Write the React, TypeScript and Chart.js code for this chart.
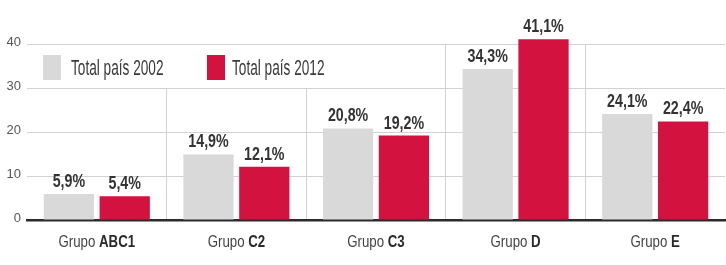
import React, { useEffect, useRef } from "react";
import { Chart, registerables } from "chart.js";

Chart.register(...registerables);

const groupPrefix = "Grupo ";
const groupNames = ["ABC1", "C2", "C3", "D", "E"];
const seriesLabels = ["Total país 2002", "Total país 2012"];
const values2002 = [5.9, 14.9, 20.8, 34.3, 24.1];
const values2012 = [5.4, 12.1, 19.2, 41.1, 22.4];
const yTickValues = [0, 10, 20, 30, 40];

const GRAY = "#d9d9d9";
const RED = "#d3123f";
const TEXT = "#3a3a3a";
const FAMILY = "'Liberation Sans', Arial, sans-serif";

function drawScaled(
  ctx: CanvasRenderingContext2D,
  text: string,
  x: number,
  y: number,
  font: string,
  scaleX: number,
  align: "left" | "center"
) {
  ctx.save();
  ctx.font = font;
  const w = ctx.measureText(text).width * scaleX;
  const left = align === "center" ? x - w / 2 : x;
  ctx.translate(left, y);
  ctx.scale(scaleX, 1);
  ctx.textAlign = "left";
  ctx.textBaseline = "alphabetic";
  ctx.fillText(text, 0, 0);
  ctx.restore();
}

const fmt = (v: number) => v.toFixed(1).replace(".", ",") + "%";

const legendPlugin = {
  id: "insideLegend",
  beforeDatasetsDraw(chart: any) {
    const { ctx, chartArea } = chart;
    const l = chartArea.left;
    const t = chartArea.top;
    ctx.save();
    ctx.fillStyle = "#ffffff";
    ctx.fillRect(l + 1, t + 1, 318, 43);
    const colors = [GRAY, RED];
    const swX = [l + 16, l + 180];
    const txX = [l + 44, l + 205];
    for (let i = 0; i < 2; i++) {
      ctx.fillStyle = colors[i];
      ctx.fillRect(swX[i], t + 11, 18, 25);
      ctx.fillStyle = TEXT;
      drawScaled(ctx, seriesLabels[i], txX[i], t + 31, `22px ${FAMILY}`, 0.62, "left");
    }
    ctx.restore();
  },
};

const labelsPlugin = {
  id: "valueLabels",
  afterDatasetsDraw(chart: any) {
    const { ctx, chartArea } = chart;
    ctx.save();
    ctx.fillStyle = "#333333";
    chart.data.datasets.forEach((ds: any, di: number) => {
      const meta = chart.getDatasetMeta(di);
      meta.data.forEach((bar: any, i: number) => {
        drawScaled(ctx, fmt(ds.data[i]), bar.x, bar.y - 7, `bold 19px ${FAMILY}`, 0.75, "center");
      });
    });
    // x category labels: "Grupo " regular + name bold
    const xScale = chart.scales.x;
    const sx = 0.78;
    groupNames.forEach((name, i) => {
      const cx = xScale.getPixelForValue(i);
      const regFont = `17px ${FAMILY}`;
      const boldFont = `bold 17px ${FAMILY}`;
      ctx.font = regFont;
      const w1 = ctx.measureText(groupPrefix).width * sx;
      ctx.font = boldFont;
      const w2 = ctx.measureText(name).width * sx;
      const left = cx - (w1 + w2) / 2;
      const y = chartArea.bottom + 27;
      ctx.fillStyle = "#444444";
      drawScaled(ctx, groupPrefix, left, y, regFont, sx, "left");
      ctx.fillStyle = "#2a2a2a";
      drawScaled(ctx, name, left + w1, y, boldFont, sx, "left");
    });
    ctx.restore();
  },
};

export default function App() {
  const ref = useRef<HTMLCanvasElement | null>(null);
  useEffect(() => {
    if (!ref.current) return;
    const chart = new Chart(ref.current, {
      type: "bar",
      data: {
        labels: groupNames.map((n) => groupPrefix + n),
        datasets: [
          { label: seriesLabels[0], data: values2002, backgroundColor: GRAY, borderWidth: 0, clip: false as any },
          { label: seriesLabels[1], data: values2012, backgroundColor: RED, borderWidth: 0, clip: false as any },
        ],
      },
      options: {
        animation: false,
        responsive: false,
        layout: { padding: { top: 44, right: 1, left: 0, bottom: 0 } },
        plugins: { legend: { display: false }, tooltip: { enabled: false } },
        scales: {
          x: {
            offset: true,
            grid: {
              offset: true,
              drawTicks: false,
              color: (c: any) => (c.index === 0 || c.index === undefined ? "transparent" : "#d2d2d2"),
              lineWidth: 1,
            },
            border: { display: true, color: "#2b2b2b", width: 2.5 },
            ticks: { display: false },
            afterFit: (s: any) => {
              s.height = 45;
            },
          },
          y: {
            min: 0,
            max: 40,
            afterBuildTicks: (s: any) => {
              s.ticks = yTickValues.map((v) => ({ value: v }));
            },
            grid: {
              drawTicks: false,
              color: (c: any) => (c.tick && c.tick.value === 0 ? "transparent" : "#d2d2d2"),
              lineWidth: 1,
            },
            border: { display: false },
            ticks: {
              padding: 6,
              labelOffset: -2,
              color: "#555555",
              font: { family: "'Liberation Sans Narrow', 'Liberation Sans', sans-serif", size: 13 },
            },
            afterFit: (s: any) => {
              s.width = 27;
            },
          },
        },
      },
      plugins: [legendPlugin, labelsPlugin],
    });
    return () => chart.destroy();
  }, []);
  return (
    <div style={{ position: "absolute", left: 0, top: 0, width: 726, height: 265, background: "#fff" }}>
      <canvas ref={ref} width={726} height={265} style={{ display: "block" }} />
    </div>
  );
}
